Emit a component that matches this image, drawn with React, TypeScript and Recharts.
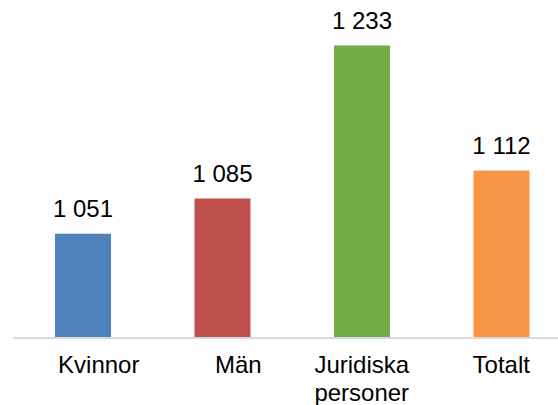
import React from "react";
import { BarChart, Bar, XAxis, YAxis, Cell, LabelList } from "recharts";

const categories = ["Kvinnor", "Män", "Juridiska personer", "Totalt"];
const values = [1051, 1085, 1233, 1112];
const colors = ["#4F81BD", "#C0504D", "#70AD47", "#F79646"];

const data = categories.map((name, i) => ({ name, value: values[i] }));

const tickShift = [16, 16, 0, 0];
const FONT = "'Liberation Sans', Arial, sans-serif";

const fmt = (v: number) => String(v).replace(/\B(?=(\d{3})+(?!\d))/g, " ");

const CatTick = (props: any) => {
  const { x, y, payload, index } = props;
  const words = String(payload.value).split(" ");
  const cx = x + (tickShift[index] || 0);
  return (
    <text
      x={cx}
      y={y + 27}
      textAnchor="middle"
      fontSize={24}
      fill="#000"
      fontFamily={FONT}
    >
      {words.map((w, i) => (
        <tspan key={i} x={cx} dy={i === 0 ? 0 : 28}>
          {w}
        </tspan>
      ))}
    </text>
  );
};

export default function App() {
  return (
    <div
      style={{
        position: "absolute",
        left: 0,
        top: 0,
        width: 558,
        height: 405,
        overflow: "hidden",
        background: "#fff",
      }}
    >
      <BarChart
        width={571}
        height={405}
        data={data}
        margin={{ top: 28, right: 0, left: 13, bottom: 0 }}
      >
        <XAxis
          dataKey="name"
          height={67}
          axisLine={{ stroke: "#d9d9d9", strokeWidth: 2 }}
          tickLine={false}
          interval={0}
          tick={<CatTick />}
        />
        <YAxis hide domain={[950, 1250]} allowDataOverflow />
        <Bar dataKey="value" barSize={56} isAnimationActive={false}>
          {data.map((d, i) => (
            <Cell key={d.name} fill={colors[i]} />
          ))}
          <LabelList
            dataKey="value"
            position="top"
            offset={17}
            formatter={(v: any) => fmt(Number(v))}
            style={{ fontSize: 24, fill: "#000", fontFamily: FONT }}
          />
        </Bar>
      </BarChart>
    </div>
  );
}
